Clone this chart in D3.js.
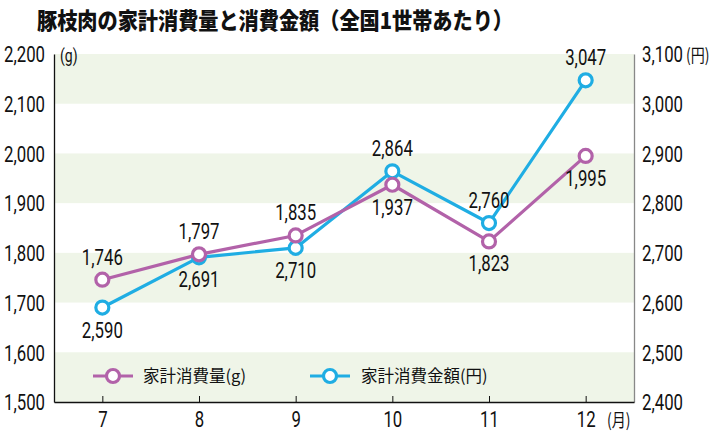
<!DOCTYPE html>
<html><head><meta charset="utf-8">
<script src="https://cdn.jsdelivr.net/npm/d3@7"></script>
<style>
html,body{margin:0;padding:0;background:#fff;}
svg text{font-family:Roboto,"Noto Sans CJK JP",sans-serif;}
.jp{font-family:"Noto Sans CJK JP",sans-serif;}
</style>
</head><body>
<svg id="c" width="720" height="432"></svg>
<script>
const months = ["7","8","9","10","11","12"];
const consumption = [1746,1797,1835,1937,1823,1995];
const spending = [2590,2691,2710,2864,2760,3047];
const leftTicks = [1500,1600,1700,1800,1900,2000,2100,2200];
const rightTicks = [2400,2500,2600,2700,2800,2900,3000,3100];
const consLabelPos = ["above","above","above","below","below","below"];
const spendLabelPos = ["below","below","below","above","above","above"];
const title = "豚枝肉の家計消費量と消費金額（全国1世帯あたり）";
const seriesNames = ["家計消費量(g)","家計消費金額(円)"];

const W=720,H=432, L=54, R=634, T=54, B=402;
const SX = 0.78;
const svg = d3.select("#c");
const x = d3.scalePoint().domain(months).range([L,R]).padding(0.5);
const yL = d3.scaleLinear().domain([1500,2200]).range([B,T]);
const yR = d3.scaleLinear().domain([2400,3100]).range([B,T]);
const fmt = d3.format(",");
const purple="#b262a9", blue="#1fade3", band="#eff5e8";

function ctext(px, py, str, size, anchor){
  return svg.append("text").attr("transform",`translate(${px},${py}) scale(${SX},1)`)
    .attr("text-anchor",anchor||"start").attr("font-size",size).attr("fill","#111").text(str);
}

// bands
for(let i=0;i<leftTicks.length-1;i+=2){
  svg.append("rect").attr("x",L).attr("width",R-L)
    .attr("y",yL(leftTicks[i]+100)).attr("height",yL(leftTicks[i])-yL(leftTicks[i]+100))
    .attr("fill",band);
}
// title
svg.append("text").attr("class","jp").attr("x",37).attr("y",29)
  .attr("font-size",23).attr("font-weight",900).attr("fill","#111")
  .attr("textLength",476).attr("lengthAdjust","spacingAndGlyphs").text(title);

// left axis
const gl = svg.append("g").attr("transform",`translate(${L},0)`)
  .call(d3.axisLeft(yL).tickValues(leftTicks).tickFormat(fmt).tickSize(0));
gl.select(".domain").attr("stroke","#111").attr("stroke-width",1.3);
gl.selectAll("text").attr("x",null).attr("dy","0.36em").attr("transform",`translate(-9,0) scale(${SX},1)`)
  .attr("font-size",21.5).attr("fill","#111").style("font-family","Roboto");
// right axis
const gr = svg.append("g").attr("transform",`translate(${R},0)`)
  .call(d3.axisRight(yR).tickValues(rightTicks).tickFormat(fmt).tickSize(0));
gr.select(".domain").attr("stroke","#888").attr("stroke-width",1.3);
gr.selectAll("text").attr("x",null).attr("dy","0.36em").attr("transform",`translate(8,0) scale(${SX},1)`)
  .attr("font-size",21.5).attr("fill","#111").style("font-family","Roboto");
// bottom axis
const gb = svg.append("g").attr("transform",`translate(0,${B})`)
  .call(d3.axisBottom(x).tickSizeInner(-6).tickSizeOuter(0));
gb.select(".domain").attr("stroke","#111").attr("stroke-width",1.3);
gb.selectAll(".tick line").attr("stroke","#111");
gb.selectAll("text").attr("y",null).attr("dy",null).attr("transform",`translate(0,25) scale(${SX},1)`)
  .attr("font-size",21.5).attr("fill","#111").style("font-family","Roboto");

// units
ctext(60,62,"(g)",18);
ctext(686,62,"(円)",18).attr("class","jp");
ctext(607,427,"(月)",18).attr("class","jp");

function series(vals, y, color, pos){
  const line = d3.line().x((d,i)=>x(months[i])).y(d=>y(d));
  svg.append("path").datum(vals).attr("d",line).attr("fill","none")
    .attr("stroke",color).attr("stroke-width",3.2).attr("stroke-linejoin","round");
  svg.selectAll(null).data(vals).enter().append("circle")
    .attr("cx",(d,i)=>x(months[i])).attr("cy",d=>y(d)).attr("r",6.5)
    .attr("fill","#fff").attr("stroke",color).attr("stroke-width",3.2);
  vals.forEach((d,i)=>{
    ctext(x(months[i]), pos[i]==="above"? y(d)-15 : y(d)+30, fmt(d), 21.5, "middle");
  });
}
series(spending, yR, blue, spendLabelPos);
series(consumption, yL, purple, consLabelPos);

// legend
const leg = [{c:purple,x:93,tx:143},{c:blue,x:310,tx:361}];
const legY = 376;
leg.forEach((l,i)=>{
  svg.append("line").attr("x1",l.x).attr("x2",l.x+40).attr("y1",legY).attr("y2",legY)
    .attr("stroke",l.c).attr("stroke-width",3.2);
  svg.append("circle").attr("cx",l.x+20).attr("cy",legY).attr("r",6.5).attr("fill","#fff")
    .attr("stroke",l.c).attr("stroke-width",3.2);
  svg.append("text").attr("class","jp").attr("x",l.tx).attr("y",legY+6).attr("font-size",16.5)
    .attr("fill","#111").text(seriesNames[i]);
});
</script>
</body></html>
